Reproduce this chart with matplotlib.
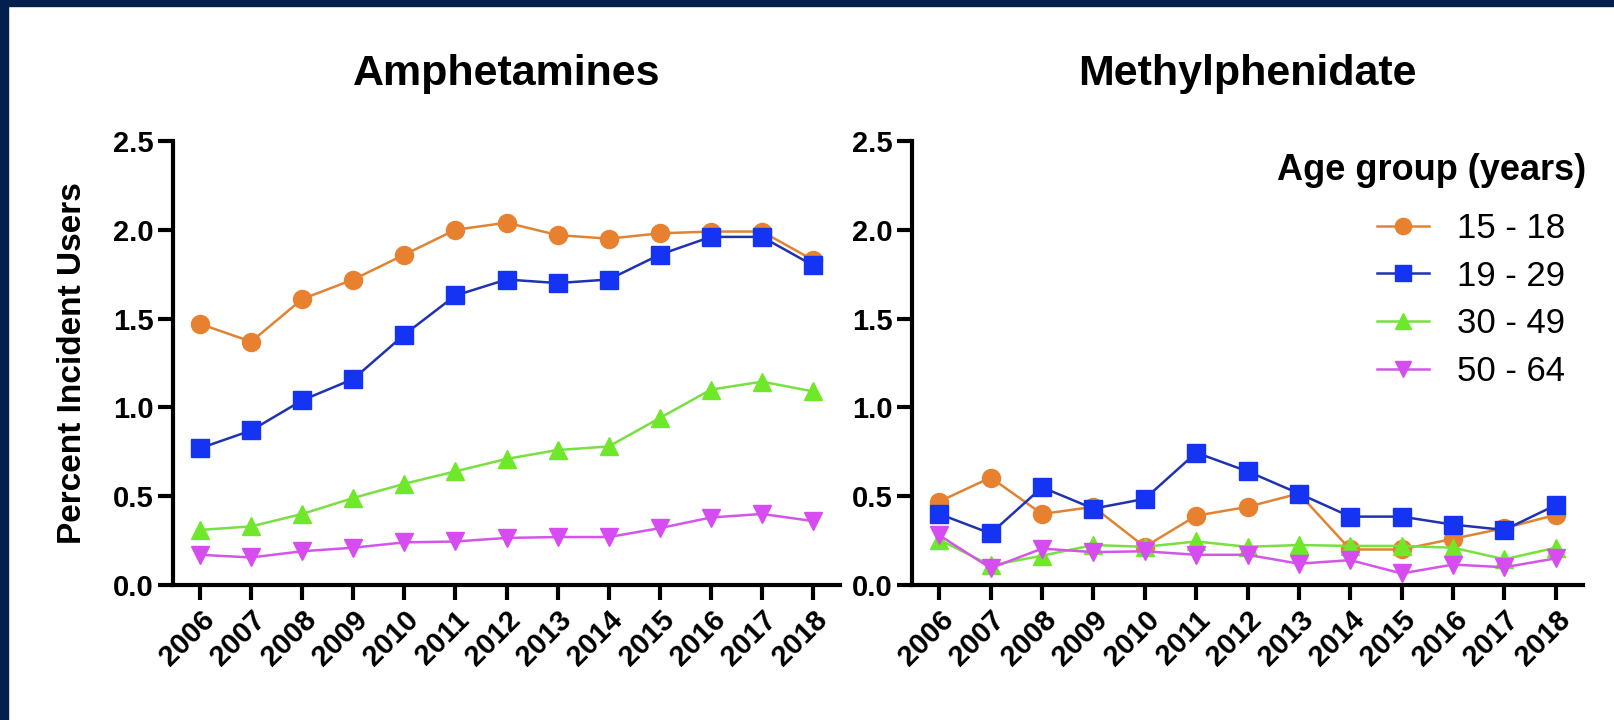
import matplotlib
matplotlib.use("Agg")
import matplotlib.pyplot as plt
from matplotlib.lines import Line2D
from matplotlib.patches import Rectangle

plt.rcParams['font.family'] = ['Liberation Sans', 'DejaVu Sans']

years = [2006, 2007, 2008, 2009, 2010, 2011, 2012, 2013, 2014, 2015, 2016, 2017, 2018]
age_groups = ['15 - 18', '19 - 29', '30 - 49', '50 - 64']

# Amphetamines
amph_15_18 = [1.47, 1.37, 1.61, 1.72, 1.86, 2.00, 2.04, 1.97, 1.95, 1.98, 1.99, 1.99, 1.83]
amph_19_29 = [0.77, 0.87, 1.04, 1.16, 1.41, 1.63, 1.72, 1.70, 1.72, 1.86, 1.96, 1.96, 1.80]
amph_30_49 = [0.31, 0.33, 0.40, 0.49, 0.57, 0.64, 0.71, 0.76, 0.78, 0.94, 1.10, 1.145, 1.09]
amph_50_64 = [0.17, 0.155, 0.19, 0.21, 0.24, 0.245, 0.265, 0.27, 0.27, 0.32, 0.38, 0.40, 0.36]

# Methylphenidate
meth_15_18 = [0.47, 0.605, 0.40, 0.44, 0.215, 0.39, 0.44, 0.515, 0.20, 0.20, 0.26, 0.32, 0.395]
meth_19_29 = [0.40, 0.29, 0.55, 0.43, 0.485, 0.745, 0.64, 0.515, 0.385, 0.385, 0.34, 0.31, 0.45]
meth_30_49 = [0.255, 0.11, 0.165, 0.225, 0.215, 0.245, 0.215, 0.225, 0.22, 0.22, 0.21, 0.145, 0.21]
meth_50_64 = [0.28, 0.095, 0.205, 0.185, 0.19, 0.17, 0.17, 0.12, 0.14, 0.065, 0.115, 0.10, 0.15]

marker_cols = ['#e8812f', '#1433f2', '#70e82a', '#d64cf0']
line_cols = ['#e08433', '#1f32b0', '#78e040', '#d455ea']
markers = ['o', 's', '^', 'v']
msizes = [13, 12.5, 13, 13]

fig = plt.figure(figsize=(16.14, 7.2), dpi=100)
ax1 = fig.add_axes([0.1072, 0.1875, 0.4133, 0.6167])
ax2 = fig.add_axes([0.5651, 0.1875, 0.4157, 0.6167])


def draw(ax, series, title):
    for i, vals in enumerate(series):
        ax.plot(years, vals, color=line_cols[i], lw=1.8, marker=markers[i],
                ms=msizes[i], mfc=marker_cols[i], mec=marker_cols[i], label=age_groups[i])
    ax.set_xlim(2006 - 0.53, 2018 + 0.53)
    ax.set_ylim(0, 2.5)
    ax.set_yticks([0, 0.5, 1.0, 1.5, 2.0, 2.5])
    ax.set_yticklabels(['0.0', '0.5', '1.0', '1.5', '2.0', '2.5'])
    ax.set_xticks(years)
    ax.set_xticklabels([str(y) for y in years], rotation=45, ha='right',
                       va='top', rotation_mode='anchor')
    for s in ['top', 'right']:
        ax.spines[s].set_visible(False)
    for s in ['left', 'bottom']:
        ax.spines[s].set_linewidth(3)
    ax.tick_params(axis='both', length=11, width=3, labelsize=21, pad=3)
    ax.tick_params(axis='x', labelsize=21, pad=4)
    for lab in ax.get_xticklabels() + ax.get_yticklabels():
        lab.set_fontweight('bold')
    ax.set_title(title, fontsize=31, fontweight='bold', pad=40)


draw(ax1, [amph_15_18, amph_19_29, amph_30_49, amph_50_64], 'Amphetamines')
draw(ax2, [meth_15_18, meth_19_29, meth_30_49, meth_50_64], 'Methylphenidate')

ax1.set_ylabel('Percent Incident Users', fontsize=24, fontweight='bold', labelpad=18)

handles = [Line2D([], [], color=line_cols[i], lw=1.8, marker=markers[i], ms=msizes[i] * 0.9,
                  mfc=marker_cols[i], mec=marker_cols[i]) for i in range(4)]
leg = fig.legend(handles, age_groups, loc='upper right', bbox_to_anchor=(1565 / 1614, 1 - 212 / 720),
                 frameon=False, fontsize=25, handlelength=1.5, handletextpad=0.8,
                 labelspacing=0.42, borderpad=0, borderaxespad=0)
fig.text(1586 / 1614, 1 - 170 / 720, 'Age group (years)', ha='right', va='center',
         fontsize=26, fontweight='bold')

# navy frame on top and left edges
navy = '#03204c'
fig.add_artist(Rectangle((0, 1 - 6 / 720), 1, 6 / 720, transform=fig.transFigure,
                         color=navy, zorder=10))
fig.add_artist(Rectangle((0, 0), 8 / 1614, 1, transform=fig.transFigure,
                         color=navy, zorder=10))

fig.savefig('out.png', dpi=100)
